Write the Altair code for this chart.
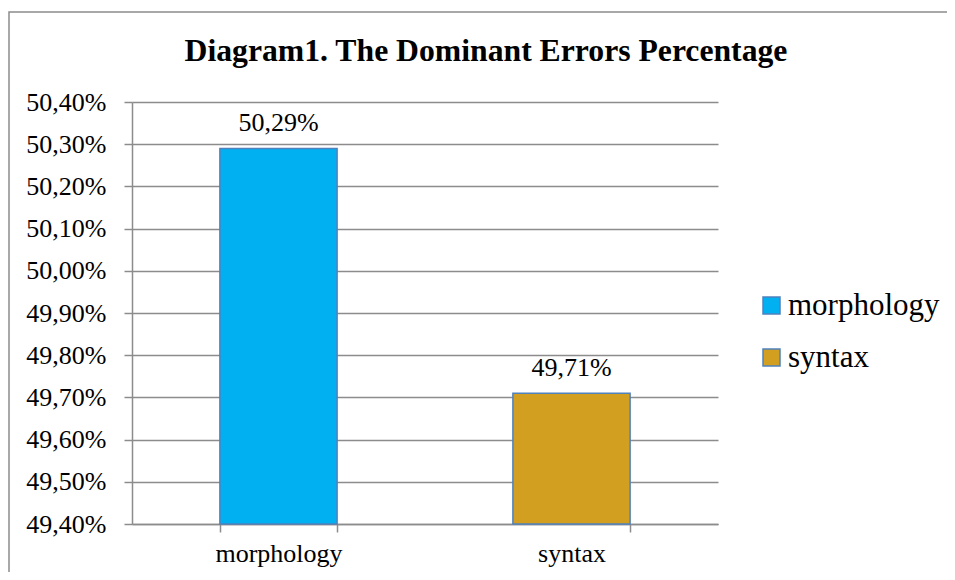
import altair as alt
import pandas as pd

categories = ["morphology", "syntax"]
values = [0.5029, 0.4971]
colors = ["#00B0F0", "#D29F20"]
y_ticks = [0.494, 0.495, 0.496, 0.497, 0.498, 0.499, 0.500, 0.501, 0.502, 0.503, 0.504]
title_text = "Diagram1. The Dominant Errors Percentage"

df = pd.DataFrame({"category": categories, "value": values})

W, H = 586, 422
FONT = "Liberation Serif"
GRID = "#8C8C8C"
fmt = "replace(format(datum.value, '.2%'), '.', ',')"

x_enc = alt.X(
    "category:N", sort=categories, title=None,
    scale=alt.Scale(paddingInner=0.6, paddingOuter=0.3),
    axis=alt.Axis(labelAngle=0, tickBand="extent", labelFont=FONT, labelFontSize=26,
                  labelColor="black", labelPadding=8, tickSize=8, tickColor=GRID,
                  tickWidth=1.5, domainColor=GRID, domainWidth=1.5, grid=False),
)
y_enc = alt.Y(
    "value:Q", title=None,
    scale=alt.Scale(domain=[y_ticks[0], y_ticks[-1]], nice=False, zero=False),
    axis=alt.Axis(values=y_ticks, labelExpr=fmt, labelFont=FONT, labelFontSize=26,
                  labelColor="black", labelPadding=18, tickSize=8, tickColor=GRID,
                  tickWidth=1.5, domainColor=GRID, domainWidth=1.5, grid=True,
                  gridColor=GRID, gridWidth=1.5),
)

bars = alt.Chart(df).mark_bar(stroke="#4F81BD", strokeWidth=1.5).encode(
    x=x_enc,
    y=y_enc,
    y2=alt.datum(y_ticks[0]),
    color=alt.Color(
        "category:N",
        scale=alt.Scale(domain=categories, range=colors),
        legend=alt.Legend(title=None, orient="none", legendX=624, legendY=188,
                          symbolType="square", symbolSize=289,
                          symbolStrokeColor="#4F81BD", symbolStrokeWidth=1.5,
                          labelFont=FONT, labelFontSize=31, labelColor="black",
                          labelOffset=1, rowPadding=20),
    ),
)

labels = alt.Chart(df).transform_calculate(label=fmt).mark_text(
    baseline="bottom", dy=-12, font=FONT, fontSize=26, color="black"
).encode(x=alt.X("category:N", sort=categories), y="value:Q", text="label:N")

frame = alt.Chart(pd.DataFrame({"f": [0]})).mark_rect(
    fillOpacity=0, stroke=GRID, strokeWidth=1.5
).encode(x=alt.value(-123), x2=alt.value(W + 260), y=alt.value(-90), y2=alt.value(H + 100))

chart = alt.layer(frame, bars, labels).properties(
    width=W, height=H,
    title=alt.Title(title_text, font=FONT, fontSize=31.7, fontWeight="bold", color="black",
                    anchor="middle", frame="group", dx=61, offset=-81,
                    baseline="alphabetic"),
    autosize=alt.AutoSizeParams(type="none"),
    padding={"left": 124, "top": 94, "right": 229, "bottom": 48},
).configure_view(stroke=None)

chart.save("out.html", embed_options={"renderer": "svg", "actions": False})
